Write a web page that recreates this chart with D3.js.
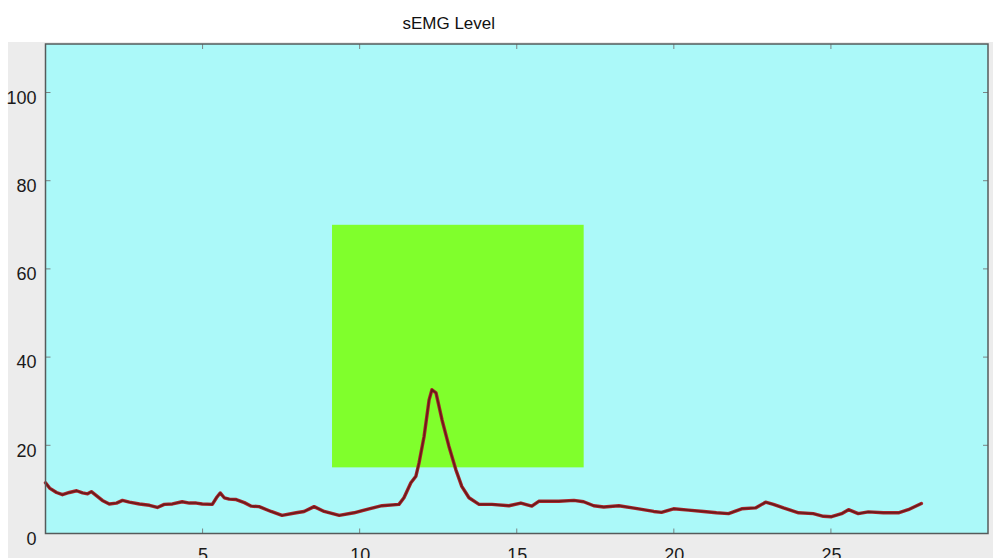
<!DOCTYPE html>
<html>
<head>
<meta charset="utf-8">
<script src="https://cdn.jsdelivr.net/npm/d3@7"></script>
<style>
  html, body { margin: 0; padding: 0; background: #ffffff; overflow: hidden; }
  svg { display: block; font-family: "Liberation Sans", Arial, sans-serif; }
</style>
</head>
<body>
<svg id="chart" width="993" height="558"></svg>
<script>
// Time (s) of each sample of the sEMG envelope
const timeSec = [
  0.00, 0.13, 0.35, 0.54, 0.76, 0.99, 1.18, 1.34, 1.46, 1.62,
  1.81, 2.03, 2.26, 2.45, 2.67, 2.99, 3.31, 3.56, 3.78, 4.04,
  4.35, 4.58, 4.80, 4.99, 5.31, 5.44, 5.56, 5.69, 5.85, 6.07,
  6.33, 6.55, 6.80, 7.18, 7.53, 7.98, 8.23, 8.55, 8.87, 9.35,
  9.82, 10.30, 10.71, 11.25, 11.41, 11.63, 11.79, 11.89, 12.05, 12.21,
  12.30, 12.43, 12.62, 12.84, 13.06, 13.25, 13.48, 13.80, 14.21, 14.75,
  15.13, 15.48, 15.70, 16.34, 16.82, 17.13, 17.45, 17.77, 18.25, 18.88,
  19.36, 19.61, 19.99, 20.47, 20.95, 21.36, 21.74, 22.16, 22.60, 22.92,
  23.17, 23.49, 23.97, 24.44, 24.76, 25.02, 25.34, 25.56, 25.87, 26.19,
  26.67, 27.15, 27.46, 27.88
];

// sEMG level at each sample
const semgLevel = [
  11.5, 10.3, 9.3, 8.8, 9.3, 9.7, 9.2, 9.0, 9.5, 8.6,
  7.5, 6.7, 6.9, 7.5, 7.1, 6.7, 6.4, 5.9, 6.6, 6.7,
  7.2, 6.9, 6.9, 6.7, 6.6, 8.1, 9.2, 8.1, 7.8, 7.7,
  7.0, 6.2, 6.1, 5.0, 4.1, 4.7, 5.0, 6.1, 5.0, 4.1,
  4.7, 5.6, 6.3, 6.6, 8.1, 11.5, 13.0, 16.0, 22.0, 30.3,
  32.6, 31.9, 25.8, 19.8, 14.5, 10.7, 8.1, 6.6, 6.6, 6.3,
  6.9, 6.2, 7.3, 7.3, 7.5, 7.2, 6.3, 6.0, 6.3, 5.6,
  5.0, 4.8, 5.6, 5.3, 5.0, 4.7, 4.5, 5.6, 5.8, 7.1,
  6.6, 5.8, 4.7, 4.5, 3.9, 3.8, 4.5, 5.4, 4.5, 4.9,
  4.7, 4.7, 5.4, 6.8
];

// Target zone: time window and level band
const targetTime = [9.12, 17.13];
const targetLevel = [15, 70];

// Axis ticks
const xTicks = [5, 10, 15, 20, 25];
const yTicks = [0, 20, 40, 60, 80, 100];
const xDomain = [0, 30];
const yDomain = [0, 111];
const titleText = "sEMG Level";

const svg = d3.select("#chart");
const W = 993, H = 558;
const plot = { left: 45.5, top: 44, right: 988, bottom: 533.5 };

const x = d3.scaleLinear().domain(xDomain).range([plot.left, plot.right]);
const y = d3.scaleLinear().domain(yDomain).range([plot.bottom, plot.top]);

// figure background
svg.append("rect").attr("x", 0).attr("y", 0).attr("width", W).attr("height", H).attr("fill", "#ffffff");
svg.append("rect").attr("x", 8).attr("y", 42).attr("width", W - 8).attr("height", H - 42).attr("fill", "#ececec");

// axes background
svg.append("rect")
  .attr("x", plot.left).attr("y", plot.top)
  .attr("width", plot.right - plot.left).attr("height", plot.bottom - plot.top)
  .attr("fill", "#abf9f9");

// target zone
svg.append("rect")
  .attr("x", x(targetTime[0])).attr("y", y(targetLevel[1]))
  .attr("width", x(targetTime[1]) - x(targetTime[0]))
  .attr("height", y(targetLevel[0]) - y(targetLevel[1]))
  .attr("fill", "#80ff2c");

// signal trace
const data = timeSec.map((t, i) => ({ t, v: semgLevel[i] }));
const line = d3.line().x(d => x(d.t)).y(d => y(d.v));
svg.append("path").datum(data)
  .attr("d", line)
  .attr("fill", "none")
  .attr("stroke", "#a8262a")
  .attr("stroke-width", 3.4)
  .attr("stroke-linejoin", "round")
  .attr("stroke-linecap", "round");
svg.append("path").datum(data)
  .attr("d", line)
  .attr("fill", "none")
  .attr("stroke", "#6a1a1c")
  .attr("stroke-width", 1.6)
  .attr("stroke-linejoin", "round");

// axes: inward ticks on all four sides
const tickLen = 5;
const axisColor = "#555b5b";
const bottomAxis = d3.axisBottom(x).tickValues(xTicks).tickSize(0).tickFormat(d3.format("d"));
const leftAxis = d3.axisLeft(y).tickValues(yTicks).tickSize(0).tickFormat(d3.format("d"));

const gx = svg.append("g").attr("transform", `translate(0,${plot.bottom})`).call(bottomAxis);
gx.select(".domain").remove();
gx.selectAll("text").attr("y", 0).attr("dy", "1.55em")
  .attr("font-size", 18).attr("fill", "#1a1a1a").attr("font-family", "Liberation Sans, Arial, sans-serif");

const gy = svg.append("g").attr("transform", `translate(${plot.left},0)`).call(leftAxis);
gy.select(".domain").remove();
gy.selectAll("text").attr("x", -9).attr("dy", "0.6em")
  .attr("font-size", 18).attr("fill", "#1a1a1a").attr("font-family", "Liberation Sans, Arial, sans-serif");

const ticks = svg.append("g").attr("stroke", "#7a8484").attr("stroke-width", 1);
xTicks.forEach(v => {
  ticks.append("line").attr("x1", x(v)).attr("x2", x(v)).attr("y1", plot.bottom).attr("y2", plot.bottom - tickLen);
  ticks.append("line").attr("x1", x(v)).attr("x2", x(v)).attr("y1", plot.top).attr("y2", plot.top + tickLen);
});
yTicks.forEach(v => {
  ticks.append("line").attr("y1", y(v)).attr("y2", y(v)).attr("x1", plot.left).attr("x2", plot.left + tickLen);
  ticks.append("line").attr("y1", y(v)).attr("y2", y(v)).attr("x1", plot.right).attr("x2", plot.right - tickLen);
});

// axes frame
svg.append("rect")
  .attr("x", plot.left).attr("y", plot.top)
  .attr("width", plot.right - plot.left).attr("height", plot.bottom - plot.top)
  .attr("fill", "none").attr("stroke", axisColor).attr("stroke-width", 1.5);

// title
svg.append("text")
  .attr("x", (plot.left + plot.right) / 2 - 68).attr("y", 29)
  .attr("text-anchor", "middle")
  .attr("font-size", 17).attr("fill", "#111")
  .text(titleText);
</script>
</body>
</html>
